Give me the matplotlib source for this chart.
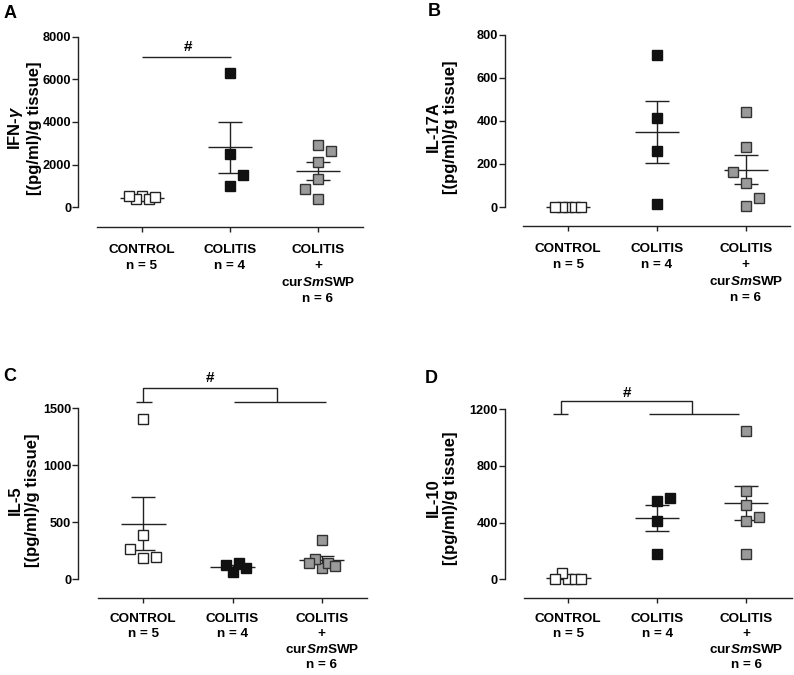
import numpy as np
import matplotlib
matplotlib.use("Agg")
import matplotlib.pyplot as plt

plt.rcParams['font.family'] = ['Liberation Sans', 'DejaVu Sans']
plt.rcParams['font.weight'] = 'bold'
plt.rcParams['mathtext.fontset'] = 'custom'
plt.rcParams['mathtext.it'] = 'Liberation Sans:italic:bold'
plt.rcParams['mathtext.rm'] = 'Liberation Sans:bold'
plt.rcParams['mathtext.bf'] = 'Liberation Sans:bold'

# ---------------- data ----------------
group_labels = ["CONTROL\nn = 5", "COLITIS\nn = 4",
                "COLITIS\n+\ncur$\\mathit{Sm}$SWP\nn = 6"]

ifng_control = [540, 380, 390, 460, 510]
ifng_colitis = [6280, 2480, 1010, 1500]
ifng_treated = [2920, 2650, 2120, 1330, 860, 390]

il17a_control = [0, 0, 0, 0, 0]
il17a_colitis = [705, 412, 262, 13]
il17a_treated = [442, 279, 3, 40, 112, 162]

il5_control = [1406, 389, 184, 198, 263]
il5_colitis = [61, 140, 125, 96]
il5_treated = [345, 102, 146, 178, 119, 140]

il10_control = [3, 0, 46, 0, 2]
il10_colitis = [554, 413, 178, 575]
il10_treated = [1047, 624, 524, 413, 437, 178]

ifng_ticks = [0, 2000, 4000, 6000, 8000]
il17a_ticks = [0, 200, 400, 600, 800]
il5_ticks = [0, 500, 1000, 1500]
il10_ticks = [0, 400, 800, 1200]

# ---------------- style ----------------
W, H = 794, 675
fig = plt.figure(figsize=(W / 100, H / 100), dpi=100)

face_colors = ["white", "#111111", "#9a9a9a"]
edge_colors = ["#222222", "#111111", "#333333"]
LINE = "#222222"


def swarm_offsets(ax, xc, values, u_px=6.5, h_px=11.5):
    ypx = ax.transData.transform(
        np.column_stack([np.full(len(values), xc), values]))[:, 1]
    for min_slots in (2, 1):
        slots = []
        for i, y in enumerate(ypx):
            def free(s):
                for j, sj in enumerate(slots):
                    if abs(ypx[j] - y) < h_px and abs(sj - s) < min_slots:
                        return False
                return True
            if free(0):
                slots.append(0)
                continue
            k = 1
            while True:
                cands = [c for c in (k, -k) if free(c)]
                if cands:
                    if len(cands) == 2:
                        right = sum(1 for s in slots if s > 0)
                        left = sum(1 for s in slots if s < 0)
                        c = -k if left < right else k
                    else:
                        c = cands[0]
                    slots.append(c)
                    break
                k += 1
        if max(abs(s) for s in slots) <= 2:
            break
    p0 = ax.transData.transform([[0, 0]])[0, 0]
    p1 = ax.transData.transform([[1, 0]])[0, 0]
    return np.array(slots) * u_px / (p1 - p0)


def panel(spec, groups, yticks, ylab, letter, sig, xpad=8.5, xls=1.45):
    sx, right, xay, xstart, cat0, dcat, y0, ytop = spec
    ytopval = yticks[-1]
    ax = fig.add_axes([sx / W, 1 - xay / H, (right - sx) / W, (xay - ytop) / H])
    ppu = (y0 - ytop) / ytopval
    ax.set_xlim((sx - cat0) / dcat, (right - cat0) / dcat)
    ax.set_ylim(-(xay - y0) / ppu, ytopval)
    for s in ("top", "right"):
        ax.spines[s].set_visible(False)
    for s in ("left", "bottom"):
        ax.spines[s].set_linewidth(1.0)
        ax.spines[s].set_color(LINE)
    ax.spines["left"].set_bounds(0, ytopval)
    ax.spines["bottom"].set_bounds((xstart - cat0) / dcat, (right - cat0) / dcat)
    ax.set_yticks(yticks)
    ax.set_yticklabels([str(t) for t in yticks], fontsize=9.2, fontweight="bold")
    ax.tick_params(axis="y", length=4, width=1.0, pad=1, colors=LINE, labelcolor="black")
    ax.set_xticks(range(len(groups)))
    ax.set_xticklabels(group_labels, fontsize=9.7, fontweight="bold", linespacing=xls)
    ax.tick_params(axis="x", length=3.8, width=1.0, pad=xpad, colors=LINE, labelcolor="black")
    ax.patch.set_alpha(0)

    for i, vals in enumerate(groups):
        vals = np.asarray(vals, dtype=float)
        m = vals.mean()
        sem = vals.std(ddof=1) / np.sqrt(len(vals))
        ax.plot([i - 0.25, i + 0.25], [m, m], color=LINE, lw=1.0, zorder=2,
                solid_capstyle="butt")
        ax.errorbar([i], [m], yerr=[sem], fmt="none", ecolor=LINE, elinewidth=1.0,
                    capsize=8.4, capthick=1.0, zorder=2)
        offs = swarm_offsets(ax, i, vals)
        ax.plot(i + offs, vals, "s", ms=6.6, mfc=face_colors[i], mec=edge_colors[i],
                mew=1.0, ls="none", zorder=3, clip_on=False)

    # y label
    fig.text(ylab[1] / W, 1 - ylab[2] / H, ylab[0], rotation=90, ha="center",
             va="center", fontsize=12, fontweight="bold", linespacing=1.18,
             multialignment="center")
    # panel letter
    fig.text(letter[1] / W, 1 - letter[2] / H, letter[0], ha="left", va="top",
             fontsize=13, fontweight="bold")
    # significance marks
    kw = dict(color=LINE, lw=1.0, clip_on=False, solid_capstyle="butt")
    if sig is None:
        return ax
    if sig["kind"] == "bar":
        ax.plot([sig["x0"], sig["x1"]], [sig["y"], sig["y"]], **kw)
    else:
        ax.plot([sig["lx0"], sig["lx1"]], [sig["yf"], sig["yf"]], **kw)
        ax.plot([sig["rx0"], sig["rx1"]], [sig["yf"], sig["yf"]], **kw)
        ax.plot([sig["lv"], sig["lv"], sig["rv"], sig["rv"]],
                [sig["yf"], sig["y"], sig["y"], sig["yf"]], **kw)
    ax.text(sig["tx"], sig["ty"], "#", ha="center", va="center", fontsize=11,
            fontweight="bold", clip_on=False)
    return ax


# spec: spine_x, right, xaxis_y, xstart, cat0, dcat, y0_px, ytop_px
panel((78.3, 363.3, 226.7, 96.7, 142.0, 88.0, 207.3, 36.7),
      [ifng_control, ifng_colitis, ifng_treated], ifng_ticks,
      ("IFN-$\\gamma$\n[(pg/ml)/g tissue]", 24, 128), ("A", 4, 5),
      dict(kind="bar", x0=0.0, x1=1.01, y=7060, tx=0.52, ty=7530))

panel((505.0, 790.0, 225.7, 523.3, 568.3, 88.7, 207.0, 34.7),
      [il17a_control, il17a_colitis, il17a_treated], il17a_ticks,
      ("IL-17A\n[(pg/ml)/g tissue]", 441.5, 127), ("B", 428, 3),
      None)

panel((78.3, 366.7, 598.3, 98.3, 143.3, 89.2, 579.3, 408.3),
      [il5_control, il5_colitis, il5_treated], il5_ticks,
      ("IL-5\n[(pg/ml)/g tissue]", 24, 500), ("C", 3, 368),
      dict(kind="bracket", lx0=-0.085, lx1=0.10, rx0=1.02, rx1=2.045,
           lv=0.0, rv=1.496, yf=1553, y=1675, tx=0.748, ty=1763),
      xpad=6.5, xls=1.33)

panel((505.0, 791.7, 598.3, 524.0, 568.3, 88.85, 579.3, 409.0),
      [il10_control, il10_colitis, il10_treated], il10_ticks,
      ("IL-10\n[(pg/ml)/g tissue]", 441.5, 498), ("D", 425, 370),
      dict(kind="bracket", lx0=-0.169, lx1=-0.007, rx0=0.908, rx1=1.925,
           lv=-0.086, rv=1.395, yf=1167, y=1259, tx=0.664, ty=1315),
      xpad=6.5, xls=1.33)

fig.savefig("out.png", dpi=100)
